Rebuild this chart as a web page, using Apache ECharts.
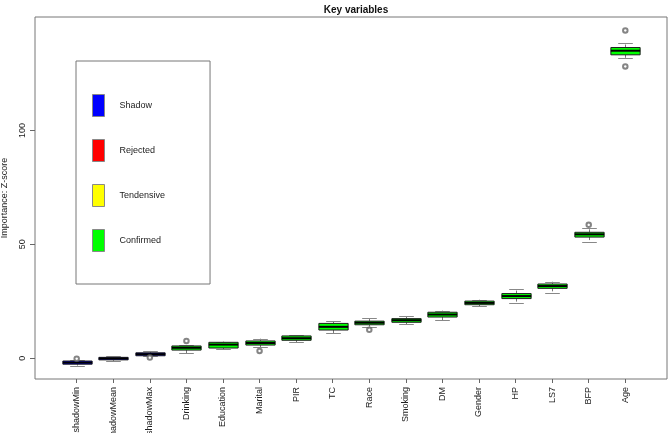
<!DOCTYPE html>
<html>
<head>
<meta charset="utf-8">
<script src="https://cdn.jsdelivr.net/npm/echarts@6/dist/echarts.min.js"></script>
<style>html,body{margin:0;padding:0;background:#fff;}#chart{width:669px;height:433px;}</style>
</head>
<body>
<div id="chart"></div>
<script>
const categories = ['shadowMin','shadowMean','shadowMax','Drinking','Education','Marital','PIR','TC','Race','Smoking','DM','Gender','HP','LS7','BFP','Age'];
const decision = ['Shadow','Shadow','Shadow','Confirmed','Confirmed','Confirmed','Confirmed','Confirmed','Confirmed','Confirmed','Confirmed','Confirmed','Confirmed','Confirmed','Confirmed','Confirmed'];
const whiskerLow  = [-3.2, -1.1, 0.9, 2.2, 3.9, 4.8, 7.0, 11.1, 13.9, 14.9, 16.7, 22.9, 24.4, 28.6, 51.2, 131.9];
const q1          = [-2.6, -0.7, 1.1, 3.6, 4.5, 5.8, 7.9, 12.4, 14.7, 15.8, 18.1, 23.5, 26.2, 30.7, 53.2, 133.2];
const median      = [-1.9, -0.1, 1.8, 4.6, 6.0, 6.7, 8.8, 13.8, 15.6, 16.7, 19.2, 24.3, 27.3, 31.7, 54.4, 135.0];
const q3          = [-1.2, 0.4, 2.4, 5.4, 7.0, 7.6, 9.8, 15.3, 16.3, 17.4, 20.2, 25.1, 28.4, 32.6, 55.3, 136.4];
const whiskerHigh = [-0.9, 0.9, 3.2, 5.8, 7.3, 8.6, 10.1, 16.2, 17.5, 18.4, 20.9, 25.7, 30.4, 33.6, 57.0, 138.5];
const outlierCategory = ['shadowMin','shadowMax','Drinking','Marital','Race','BFP','Age','Age'];
const outlierValue    = [-0.2, 0.3, 7.6, 3.2, 12.5, 58.6, 143.9, 128.1];
const legendNames = ['Shadow','Rejected','Tendensive','Confirmed'];
const yTicks = [0, 50, 100];

const decisionColors = {Shadow:'#0000FF', Rejected:'#FF0000', Tendensive:'#FFFF00', Confirmed:'#00FF00'};
const FONT = "'Liberation Sans', Arial, Helvetica, sans-serif";

function rowsFor(name) {
  const rows = [];
  categories.forEach((c, i) => {
    if (decision[i] === name) rows.push([i + 1, whiskerLow[i], q1[i], median[i], q3[i], whiskerHigh[i]]);
  });
  return rows;
}

function renderBox(params, api) {
  const x = api.value(0);
  const wl = api.coord([x, api.value(1)]);
  const b1 = api.coord([x, api.value(2)]);
  const md = api.coord([x, api.value(3)]);
  const b3 = api.coord([x, api.value(4)]);
  const wh = api.coord([x, api.value(5)]);
  const bw = api.size([0.8, 0])[0];
  const sw = api.size([0.4, 0])[0];
  const cx = Math.round(wl[0]) + 0.5;
  const fill = api.visual('color');
  const wStyle = {stroke:'#777', lineWidth:1, lineDash:[3,2]};
  const sStyle = {stroke:'#888', lineWidth:1};
  return {
    type: 'group',
    children: [
      {type:'line', shape:{x1:cx, y1:b3[1], x2:cx, y2:wh[1]}, style:wStyle},
      {type:'line', shape:{x1:cx, y1:b1[1], x2:cx, y2:wl[1]}, style:wStyle},
      {type:'line', shape:{x1:cx - sw/2, y1:Math.round(wh[1])+0.5, x2:cx + sw/2, y2:Math.round(wh[1])+0.5}, style:sStyle},
      {type:'line', shape:{x1:cx - sw/2, y1:Math.round(wl[1])+0.5, x2:cx + sw/2, y2:Math.round(wl[1])+0.5}, style:sStyle},
      {type:'rect', shape:{x:cx - bw/2, y:b3[1], width:bw, height:b1[1]-b3[1]}, style:{fill:fill, stroke:'#1e1e1e', lineWidth:1}},
      {type:'line', shape:{x1:cx - bw/2, y1:md[1], x2:cx + bw/2, y2:md[1]}, style:{stroke:'#000', lineWidth:2}}
    ]
  };
}

const boxSeries = legendNames.map(name => ({
  name: name,
  type: 'custom',
  renderItem: renderBox,
  itemStyle: {color: decisionColors[name], borderColor:'#888', borderWidth:1},
  encode: {x: 0, y: [1, 2, 3, 4, 5]},
  data: rowsFor(name),
  z: 3
}));

const outlierSeries = {
  name: 'outliers',
  type: 'scatter',
  symbol: 'emptyCircle',
  symbolSize: 4.5,
  itemStyle: {color:'#666', borderColor:'#666', borderWidth:0.6},
  data: outlierCategory.map((c, i) => [categories.indexOf(c) + 1, outlierValue[i]]),
  z: 4
};

const chart = echarts.init(document.getElementById('chart'), null, {renderer:'canvas'});
chart.setOption({
  animation: false,
  backgroundColor: '#fff',
  textStyle: {fontFamily: FONT},
  title: {
    text: 'Key variables', left: 351, top: 0, textAlign: 'center',
    textStyle: {fontFamily: FONT, fontSize: 10, fontWeight: 'bold', color: '#111'}
  },
  legend: {
    data: legendNames,
    orient: 'vertical',
    left: 76, top: 61,
    itemWidth: 12, itemHeight: 22, itemGap: 22,
    padding: [33, 45, 32, 16],
    borderColor: '#777', borderWidth: 1,
    icon: 'rect',
    selectedMode: false,
    itemStyle: {borderColor:'#888', borderWidth:1},
    textStyle: {fontFamily: FONT, fontSize: 9, color:'#222', padding:[0,0,0,10]}
  },
  grid: {left: 35, top: 17, width: 632, height: 362, outerBoundsMode: 'none', containLabel: false, show: true, borderColor: '#777', borderWidth: 1, backgroundColor:'transparent'},
  xAxis: {
    type: 'value', min: -0.14, max: 17.14, position: 'bottom',
    splitLine: {show:false},
    axisLine: {show:false, onZero:false},
    axisTick: {show:true, customValues: categories.map((c, i) => i + 1), length: 4, lineStyle:{color:'#666'}},
    axisLabel: {
      customValues: categories.map((c, i) => i + 1),
      formatter: v => categories[Math.round(v) - 1] || '',
      rotate: 90, fontSize: 9, color: '#222', margin: 8, fontFamily: FONT
    }
  },
  yAxis: {
    type: 'value', min: -9.1, max: 149.8, position: 'left',
    name: 'Importance: Z-score', nameLocation: 'middle', nameGap: 26, nameRotate: 90,
    nameTextStyle: {fontFamily: FONT, fontSize: 9, color:'#222'},
    splitLine: {show:false},
    axisLine: {show:false, onZero:false},
    axisTick: {show:true, customValues: yTicks, length: 5, lineStyle:{color:'#666'}},
    axisLabel: {customValues: yTicks, rotate: 90, fontSize: 9, color:'#222', margin: 8, fontFamily: FONT}
  },
  series: boxSeries.concat([outlierSeries])
});
</script>
</body>
</html>
